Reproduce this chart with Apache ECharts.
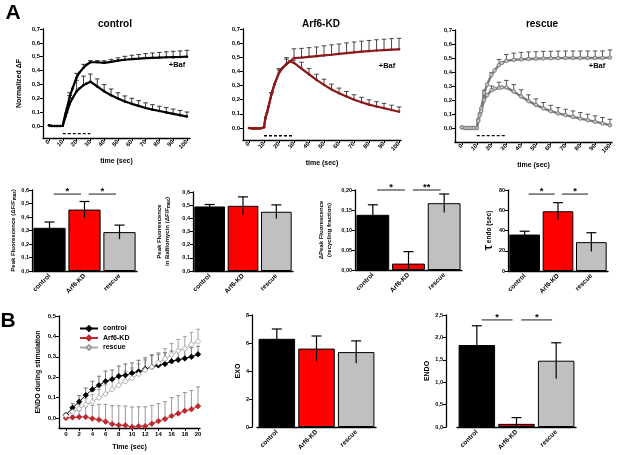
<!DOCTYPE html>
<html>
<head>
<meta charset="utf-8">
<script src="https://cdn.jsdelivr.net/npm/echarts@6/dist/echarts.min.js"></script>
<style>
html, body { margin: 0; padding: 0; background: #fff; }
#fig { width: 617px; height: 455px; }
</style>
</head>
<body>
<div id="fig"></div>
<script>
// A, top row: normalized dF time courses, +Baf and without
var topT = [0,2,4,6,8,10,11,12,13,15,17,20,22,25,27,30,35,40,45,50,55,60,65,70,75,80,85,90,95,100];
var ctlBaf = [0.005,0,0,0,0,0.002,0.05,0.09,0.13,0.21,0.27,0.35,0.385,0.42,0.44,0.46,0.46,0.456,0.463,0.472,0.478,0.483,0.486,0.49,0.492,0.494,0.496,0.497,0.498,0.5];
var ctl = [0.005,0,0,0,0,0.002,0.04,0.07,0.1,0.16,0.2,0.25,0.27,0.295,0.305,0.32,0.285,0.25,0.222,0.198,0.177,0.16,0.145,0.13,0.118,0.108,0.098,0.088,0.078,0.068];
var arfBaf = [0,-0.003,-0.003,-0.003,-0.002,0.005,0.075,0.11,0.15,0.24,0.31,0.39,0.42,0.452,0.468,0.495,0.498,0.503,0.508,0.513,0.518,0.524,0.53,0.535,0.54,0.544,0.548,0.551,0.554,0.556];
var arf = [0,-0.003,-0.003,-0.003,-0.002,0.005,0.075,0.11,0.15,0.24,0.31,0.39,0.42,0.452,0.472,0.46,0.42,0.38,0.34,0.305,0.272,0.245,0.222,0.2,0.182,0.165,0.152,0.14,0.127,0.115];
var resBaf = [0.005,0,0,0,0,0,0.06,0.1,0.14,0.25,0.31,0.38,0.41,0.45,0.465,0.48,0.487,0.49,0.493,0.495,0.497,0.498,0.499,0.5,0.5,0.5,0.5,0.5,0.5,0.503];
var res = [0.005,0,0,0,0,0,0.05,0.09,0.12,0.2,0.235,0.27,0.28,0.287,0.291,0.29,0.26,0.225,0.192,0.165,0.14,0.12,0.104,0.092,0.08,0.068,0.056,0.045,0.033,0.02];

var errT = [15,20,25,30,35,40,45,50,55,60,65,70,75,80,85,90,95,100];
var ctlBafErr = [0.03,0.03,0.025,0.012,0.012,0.015,0.018,0.02,0.025,0.028,0.03,0.032,0.035,0.037,0.04,0.042,0.044,0.046];
var ctlErr = [0.06,0.08,0.065,0.055,0.055,0.05,0.045,0.042,0.04,0.04,0.038,0.037,0.036,0.035,0.035,0.034,0.034,0.033];
var arfBafErr = [0.01,0.03,0.045,0.065,0.065,0.065,0.065,0.068,0.07,0.07,0.072,0.073,0.074,0.075,0.076,0.077,0.078,0.078];
var arfErr = [0.01,0.02,0.035,0.02,0.045,0.04,0.04,0.04,0.038,0.037,0.036,0.035,0.035,0.034,0.034,0.034,0.034,0.034];
var resBafErr = [0.02,0.015,0.04,0.045,0.048,0.05,0.05,0.05,0.05,0.05,0.05,0.05,0.05,0.05,0.05,0.05,0.05,0.055];
var resErr = [0.03,0.03,0.04,0.05,0.05,0.048,0.045,0.043,0.042,0.042,0.042,0.042,0.042,0.042,0.042,0.042,0.042,0.042];

var stimT = [10, 30];
var stimLevel = -0.055;
var topTicksX = [0,10,20,30,40,50,60,70,80,90,100];
var topTicksY = [0,0.1,0.2,0.3,0.4,0.5,0.6,0.7];

// bar panels (mean, SEM)
var groups = ['control', 'Arf6-KD', 'rescue'];
var peak = [0.32, 0.455, 0.288], peakErr = [0.043, 0.06, 0.052];
var peakBaf = [0.49, 0.495, 0.45], peakBafErr = [0.015, 0.068, 0.052];
var recyc = [0.138, 0.016, 0.167], recycErr = [0.025, 0.03, 0.023];
var tauEndo = [36, 59, 28.5], tauEndoErr = [3.3, 8.5, 9.3];
var exo = [6.3, 5.6, 5.35], exoErr = [0.7, 0.9, 0.8];
var endo = [1.83, 0.07, 1.48], endoErr = [0.43, 0.14, 0.4];

// significance brackets: [from, to, level]
var sigPeak = [[0, 1, 0.57], [1, 2, 0.57]], sigPeakTxt = ['*', '*'];
var sigRecyc = [[0, 1, 0.2], [1, 2, 0.2]], sigRecycTxt = ['*', '**'];
var sigTau = [[0, 1, 76], [1, 2, 76]], sigTauTxt = ['*', '*'];
var sigEndo = [[0, 1, 2.39], [1, 2, 2.39]], sigEndoTxt = ['*', '*'];

// B, endocytosis during stimulation
var bT = [0,1,2,3,4,5,6,7,8,9,10,11,12,13,14,15,16,17,18,19,20];
var bCtl = [0.015,0.05,0.08,0.112,0.14,0.16,0.18,0.19,0.205,0.21,0.22,0.228,0.24,0.25,0.258,0.265,0.278,0.285,0.292,0.3,0.312];
var bCtlErr = [0.005,0.02,0.03,0.035,0.04,0.045,0.05,0.045,0.05,0.055,0.05,0.055,0.055,0.06,0.055,0.055,0.05,0.05,0.045,0.045,0.04];
var bArf = [0,0.003,0.005,0.005,-0.003,-0.008,-0.018,-0.03,-0.035,-0.036,-0.044,-0.04,-0.04,-0.028,-0.015,-0.005,0.01,0.022,0.035,0.043,0.058];
var bArfErr = [0.005,0.01,0.03,0.05,0.065,0.075,0.085,0.09,0.095,0.095,0.098,0.095,0.095,0.09,0.085,0.085,0.09,0.088,0.09,0.092,0.094];
var bRes = [0.012,0.03,0.045,0.065,0.08,0.1,0.118,0.14,0.16,0.18,0.195,0.215,0.235,0.25,0.27,0.29,0.31,0.33,0.34,0.36,0.375];
var bResErr = [0.005,0.01,0.02,0.03,0.035,0.04,0.045,0.045,0.05,0.05,0.05,0.05,0.05,0.055,0.05,0.05,0.055,0.055,0.06,0.06,0.06];
var bTicksX = [0,2,4,6,8,10,12,14,16,18,20];
var bTicksY = [0,0.1,0.2,0.3,0.4,0.5];

var FONT = 'Liberation Sans';

function fmt(d) {
  return function (v) { return (+v).toFixed(d).replace('.', ','); };
}

function zip(xs, ys) {
  return xs.map(function (x, i) { return [x, ys[i]]; });
}

var lineAx = { show: true, onZero: false, lineStyle: { color: '#000', width: 1.3 } };
var tickAx = { show: true, length: 3, lineStyle: { color: '#000', width: 1 } };

function nameStyle(size) {
  return { fontFamily: FONT, fontWeight: 'bold', fontSize: size || 7, color: '#000', lineHeight: 8 };
}

// --- renderers ---
function upErr(color, half) {
  return function (params, api) {
    var x = api.value(0), y = api.value(1), e = api.value(2);
    var a = api.coord([x, y]), b = api.coord([x, y + e]);
    var st = { stroke: color, lineWidth: 0.9 };
    return { type: 'group', children: [
      { type: 'line', shape: { x1: a[0], y1: a[1], x2: b[0], y2: b[1] }, style: st },
      { type: 'line', shape: { x1: b[0] - half, y1: b[1], x2: b[0] + half, y2: b[1] }, style: st }
    ] };
  };
}

function barErr(params, api) {
  var i = api.value(0), m = api.value(1), e = api.value(2);
  var a = api.coord([i, Math.max(0, m - e)]), b = api.coord([i, m + e]);
  var st = { stroke: '#000', lineWidth: 1.2 };
  return { type: 'group', children: [
    { type: 'line', shape: { x1: a[0], y1: a[1], x2: b[0], y2: b[1] }, style: st },
    { type: 'line', shape: { x1: b[0] - 5, y1: b[1], x2: b[0] + 5, y2: b[1] }, style: st }
  ] };
}

function sigRender(txt) {
  return function (params, api) {
    var i = api.value(0), j = api.value(1), lv = api.value(2);
    var a = api.coord([i, lv]), b = api.coord([j, lv]);
    var band = api.size([1, 0])[0];
    var x1 = a[0] + 0.12 * band, x2 = b[0] - 0.1 * band;
    return { type: 'group', children: [
      { type: 'line', shape: { x1: x1, y1: a[1], x2: x2, y2: a[1] }, style: { stroke: '#000', lineWidth: 0.9 } },
      { type: 'text', x: (x1 + x2) / 2, y: a[1] + 2,
        style: { text: txt[params.dataIndex], fill: '#000', fontSize: 9.5, fontWeight: 'bold', fontFamily: FONT,
                 align: 'center', verticalAlign: 'bottom', textAlign: 'center', textVerticalAlign: 'bottom' } }
    ] };
  };
}

// --- grids ---
var grids = [
  { left: 43, top: 29, width: 147, height: 109 },   // 0 control
  { left: 243, top: 29, width: 158, height: 111 },  // 1 Arf6-KD
  { left: 455, top: 30, width: 157, height: 112 },  // 2 rescue
  { left: 32, top: 190, width: 105, height: 81 },   // 3 peak
  { left: 193, top: 192, width: 100, height: 79 },  // 4 peak baf
  { left: 355, top: 190, width: 107, height: 80 },  // 5 recycling
  { left: 508, top: 190, width: 100, height: 81 },  // 6 tau
  { left: 59, top: 316, width: 141, height: 112 },  // 7 ENDO time course
  { left: 257, top: 315, width: 119, height: 112 }, // 8 EXO
  { left: 457, top: 315, width: 119, height: 112 }  // 9 ENDO
];

var xAxes = [], yAxes = [];

function timeX(gi, min, max, ticks, name, rot) {
  xAxes.push({
    type: 'value', gridIndex: gi, min: min, max: max,
    axisLine: lineAx,
    axisTick: { show: true, length: 3, lineStyle: { color: '#000' }, customValues: ticks },
    axisLabel: { customValues: ticks, rotate: rot, fontSize: 6, fontWeight: 'bold', fontFamily: FONT, color: '#000', margin: 3 },
    splitLine: { show: false },
    name: name, nameLocation: 'middle', nameGap: rot ? 19 : 15, nameTextStyle: nameStyle(7)
  });
}

function fixedY(gi, min, max, ticks, dec, name, gap) {
  yAxes.push({
    type: 'value', gridIndex: gi, min: min, max: max,
    axisLine: lineAx,
    axisTick: { show: true, length: 3, lineStyle: { color: '#000' }, customValues: ticks },
    axisLabel: { customValues: ticks, formatter: fmt(dec), fontSize: 6, fontWeight: 'bold', fontFamily: FONT, color: '#000', margin: 3 },
    splitLine: { show: false },
    name: name, nameLocation: 'middle', nameGap: gap, nameTextStyle: nameStyle(7)
  });
}

function catX(gi) {
  xAxes.push({
    type: 'category', gridIndex: gi, data: groups,
    axisLine: lineAx, axisTick: { show: false },
    axisLabel: { interval: 0, rotate: 45, fontSize: 6.5, fontWeight: 'bold', fontFamily: FONT, color: '#000', margin: 4 },
    splitLine: { show: false }
  });
}

function barY(gi, max, interval, dec, name, gap, offset, ns) {
  yAxes.push({
    type: 'value', gridIndex: gi, min: 0, max: max, interval: interval, offset: offset || 0,
    axisLine: lineAx, axisTick: tickAx,
    axisLabel: { formatter: fmt(dec), fontSize: 5.5, fontWeight: 'bold', fontFamily: FONT, color: '#000', margin: 3 },
    splitLine: { show: false },
    name: name, nameLocation: 'middle', nameGap: gap,
    nameTextStyle: ns || nameStyle(6)
  });
}

// top row axes
timeX(0, -4.35, 102.2, topTicksX, 'time (sec)', 45);
timeX(1, -4, 101.3, topTicksX, 'time (sec)', 45);
timeX(2, -4.7, 101.4, topTicksX, 'time (sec)', 45);
fixedY(0, -0.0866, 0.7, topTicksY, 1, 'Normalized \u0394F', 20);
fixedY(1, -0.085, 0.7, topTicksY, 1, '', 0);
fixedY(2, -0.1, 0.7, topTicksY, 1, '', 0);

// middle row
var subRich = { sub: { fontSize: 4.5, fontWeight: 'bold', fontFamily: FONT, verticalAlign: 'bottom', padding: [3, 0, 0, 0] } };
catX(3); catX(4); catX(5); catX(6);
barY(3, 0.6, 0.1, 1, 'Peak Fluorescence (\u0394F/F{sub|max})', 15, 0,
  Object.assign(nameStyle(6), { rich: subRich }));
barY(4, 0.6, 0.1, 1, 'Peak Fluorescence\nin Bafilomycin (\u0394F/F{sub|max})', 22, 0,
  Object.assign(nameStyle(6), { rich: subRich }));
barY(5, 0.2, 0.05, 2, '\u0394Peak Fluorescence\n(recycling fraction)', 22, 0);
barY(6, 80, 20, 0, '{tau|\u03c4} endo (sec)', 11, 0,
  Object.assign(nameStyle(6.5), { rich: { tau: { fontSize: 12, fontWeight: 'bold', fontFamily: FONT } } }));

// bottom row
timeX(7, -1.05, 20.3, bTicksX, 'Time (sec)', 0);
fixedY(7, -0.049, 0.5, bTicksY, 1, 'ENDO during stimulation', 17);
catX(8); catX(9);
barY(8, 8, 2, 0, 'EXO', 10, 5, nameStyle(7));
barY(9, 2.5, 0.5, 1, 'ENDO', 11, 11, nameStyle(7));

// --- series ---
var series = [];

function curve(gi, name, ys, color, width, sym, symSize, fill) {
  series.push({
    type: 'line', name: name, xAxisIndex: gi, yAxisIndex: gi, data: zip(topT, ys),
    showSymbol: true, symbol: sym, symbolSize: symSize,
    itemStyle: { color: fill || color, borderColor: color, borderWidth: fill ? 0.9 : 0 },
    lineStyle: { color: color, width: width }, z: 3, silent: true
  });
}

function curveErr(gi, ys, errs, color) {
  series.push({
    type: 'custom', xAxisIndex: gi, yAxisIndex: gi, renderItem: upErr(color, 2.3),
    data: errT.map(function (t, k) { return [t, ys[topT.indexOf(t)], errs[k]]; }),
    encode: { x: 0, y: 1 }, z: 2, silent: true
  });
}

function stim(gi) {
  series.push({
    type: 'line', xAxisIndex: gi, yAxisIndex: gi, symbol: 'none',
    data: stimT.map(function (t) { return [t, stimLevel]; }),
    lineStyle: { color: '#000', width: 1.3, type: [3, 2] }, silent: true
  });
}

curveErr(0, ctlBaf, ctlBafErr, '#222');
curveErr(0, ctl, ctlErr, '#222');
curve(0, 'ctl+Baf', ctlBaf, '#000', 2.2, 'circle', 2.5);
curve(0, 'ctl', ctl, '#000', 2.2, 'circle', 2.5);
stim(0);

curveErr(1, arfBaf, arfBafErr, '#333');
curveErr(1, arf, arfErr, '#333');
curve(1, 'arf+Baf', arfBaf, '#8b1a1a', 2.2, 'circle', 2.5);
curve(1, 'arf', arf, '#8b1a1a', 2.2, 'circle', 2.5);
stim(1);

curveErr(2, resBaf, resBafErr, '#444');
curveErr(2, res, resErr, '#444');
curve(2, 'res+Baf', resBaf, '#7a7a7a', 2.4, 'circle', 3.6, '#c4c4c4');
curve(2, 'res', res, '#7a7a7a', 2.4, 'circle', 3.6, '#c4c4c4');
stim(2);

var barColors = ['#000', '#ff0000', '#c0c0c0'];

function barPanel(gi, vals, errs, sig, sigTxt, colors) {
  var cols = colors || barColors;
  series.push({
    type: 'bar', xAxisIndex: gi, yAxisIndex: gi, barCategoryGap: '8%',
    data: vals.map(function (v, i) {
      return { value: v, itemStyle: { color: cols[i], borderColor: '#000', borderWidth: 1 } };
    }), silent: true
  });
  series.push({
    type: 'custom', xAxisIndex: gi, yAxisIndex: gi, renderItem: barErr,
    data: vals.map(function (v, i) { return [i, v, errs[i]]; }),
    encode: { x: 0, y: 1 }, z: 3, silent: true
  });
  if (sig) {
    series.push({
      type: 'custom', xAxisIndex: gi, yAxisIndex: gi, renderItem: sigRender(sigTxt),
      data: sig, encode: { x: 0, y: 2 }, z: 3, silent: true
    });
  }
}

barPanel(3, peak, peakErr, sigPeak, sigPeakTxt);
barPanel(4, peakBaf, peakBafErr);
barPanel(5, recyc, recycErr, sigRecyc, sigRecycTxt);
barPanel(6, tauEndo, tauEndoErr, sigTau, sigTauTxt);
barPanel(8, exo, exoErr);
barPanel(9, endo, endoErr, sigEndo, sigEndoTxt, ['#000', '#d40000', '#c0c0c0']);

function bErr(ys, errs, color) {
  series.push({
    type: 'custom', xAxisIndex: 7, yAxisIndex: 7, renderItem: upErr(color, 2),
    data: bT.map(function (t, i) { return [t, ys[i], errs[i]]; }),
    encode: { x: 0, y: 1 }, z: 2, silent: true
  });
}
bErr(bArf, bArfErr, '#8c8c8c');
bErr(bRes, bResErr, '#9a9a9a');
bErr(bCtl, bCtlErr, '#666');

function bLine(name, ys, line, fill, border) {
  series.push({
    type: 'line', name: name, xAxisIndex: 7, yAxisIndex: 7, data: zip(bT, ys),
    symbol: 'diamond', symbolSize: 5.5,
    itemStyle: { color: fill, borderColor: border, borderWidth: 0.8 },
    lineStyle: { color: line, width: 1 }, z: 3
  });
}
bLine('control', bCtl, '#000', '#000', '#000');
bLine('Arf6-KD', bArf, '#c0272d', '#c0272d', '#c0272d');
bLine('rescue', bRes, '#aaa', '#fff', '#999');

// --- annotations ---
function txt(x, y, s, size) {
  return { type: 'text', x: x, y: y, silent: true,
    style: { text: s, fill: '#000', fontSize: size, fontWeight: 'bold', fontFamily: FONT,
             align: 'center', verticalAlign: 'middle', textAlign: 'center', textVerticalAlign: 'middle' } };
}

var chart = echarts.init(document.getElementById('fig'), null, { renderer: 'canvas' });
chart.setOption({
  backgroundColor: '#fff',
  animation: false,
  textStyle: { fontFamily: FONT },
  grid: grids,
  xAxis: xAxes,
  yAxis: yAxes,
  legend: {
    data: ['control', 'Arf6-KD', 'rescue'], orient: 'vertical', left: 74, top: 320,
    itemWidth: 18, itemHeight: 6, itemGap: 2.5, selectedMode: false,
    textStyle: { fontSize: 7, fontWeight: 'bold', fontFamily: FONT, color: '#000' }
  },
  graphic: [
    txt(13, 13, 'A', 21),
    txt(8, 321, 'B', 21),
    txt(115, 24, 'control', 10),
    txt(321, 24, 'Arf6-KD', 10),
    txt(542, 24, 'rescue', 10),
    txt(177, 65, '+Baf', 7.5),
    txt(387, 66, '+Baf', 7.5),
    txt(597, 66, '+Baf', 7.5)
  ],
  series: series
});
</script>
</body>
</html>
